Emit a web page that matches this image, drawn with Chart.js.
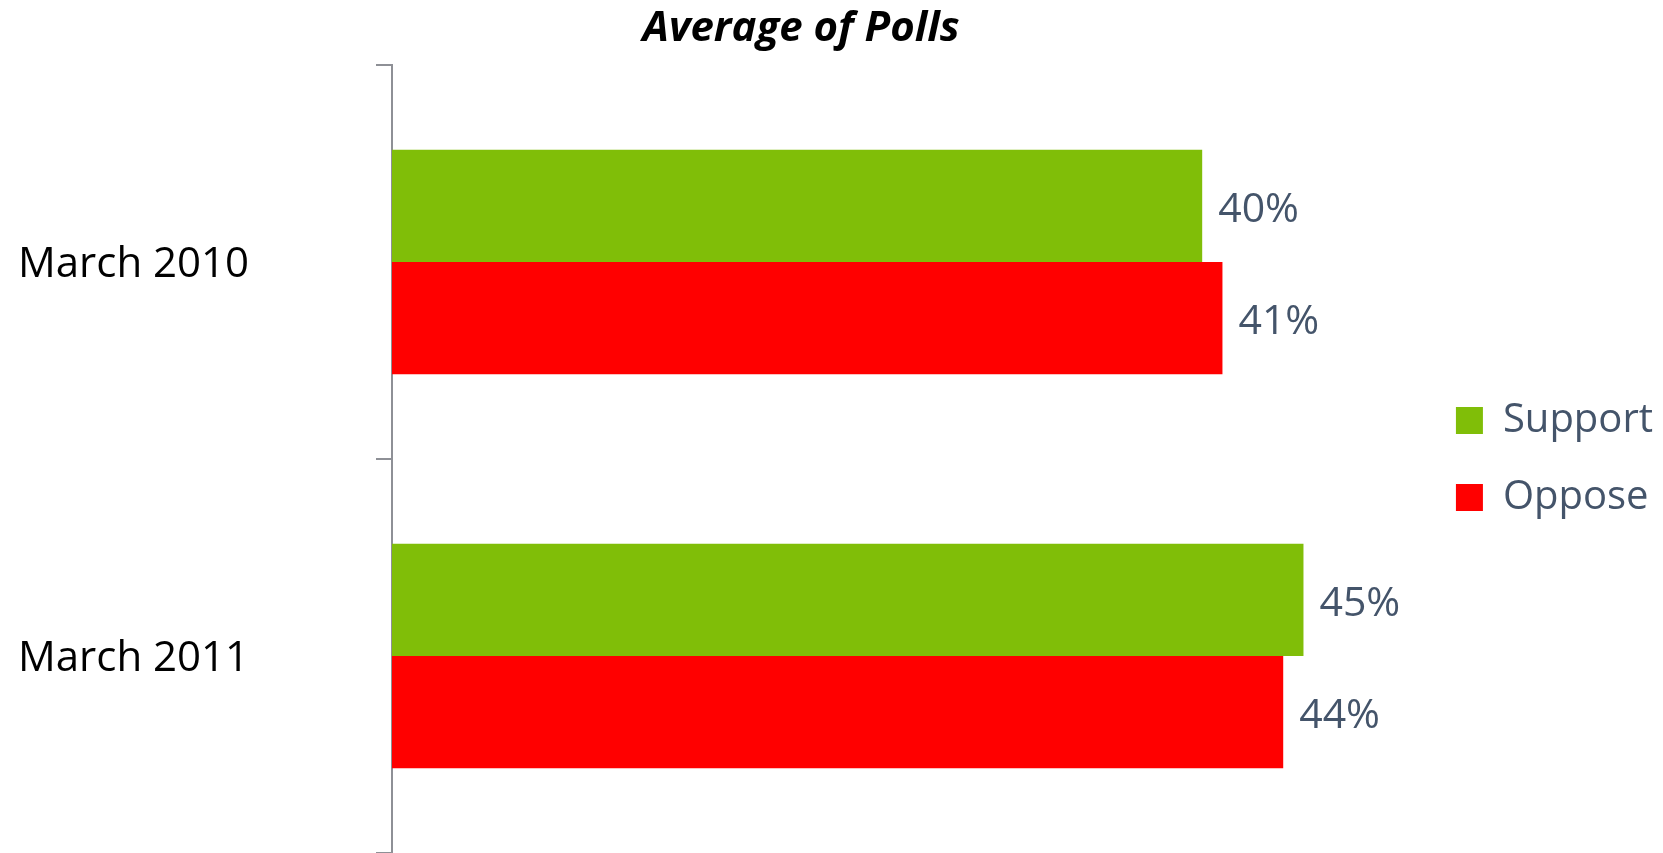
<!DOCTYPE html>
<html>
<head>
<meta charset="utf-8">
<title>Average of Polls</title>
<script src="https://cdn.jsdelivr.net/npm/chart.js@4"></script>
<style>
  html, body { margin: 0; padding: 0; background: #fff; }
  #wrap { width: 1663px; height: 853px; position: relative; }
</style>
</head>
<body>
<div id="wrap"><canvas id="pollsChart"></canvas></div>
<script>
const periods = ['March 2010', 'March 2011'];
const support = [40, 45];
const oppose = [41, 44];
const seriesNames = ['Support', 'Oppose'];

const FONT = "'Open Sans', sans-serif";
const labelGrey = '#44546A';
const axisGrey = '#8E9096';

// value labels to the right of each bar
const barValues = {
  id: 'barValues',
  afterDatasetsDraw(chart) {
    const ctx = chart.ctx;
    ctx.save();
    ctx.font = '41px ' + FONT;
    ctx.fillStyle = labelGrey;
    ctx.textAlign = 'left';
    ctx.textBaseline = 'middle';
    chart.data.datasets.forEach((ds, i) => {
      chart.getDatasetMeta(i).data.forEach((bar, j) => {
        ctx.fillText(ds.data[j] + '%', bar.x + 16, bar.y + 4);
      });
    });
    ctx.restore();
  }
};

// italic heading above the plot
const heading = {
  id: 'heading',
  afterDraw(chart) {
    const ctx = chart.ctx;
    ctx.save();
    ctx.font = 'italic bold 42px ' + FONT;
    ctx.fillStyle = '#000';
    ctx.textAlign = 'center';
    ctx.textBaseline = 'alphabetic';
    ctx.fillText('Average of Polls', chart.width * 0.4817, 41);
    ctx.restore();
  }
};

new Chart(document.getElementById('pollsChart'), {
  type: 'bar',
  data: {
    labels: periods,
    datasets: [
      {
        label: seriesNames[0],
        data: support,
        backgroundColor: '#80BE08',
        borderWidth: 0,
        categoryPercentage: 0.57,
        barPercentage: 1
      },
      {
        label: seriesNames[1],
        data: oppose,
        backgroundColor: '#FF0000',
        borderWidth: 0,
        categoryPercentage: 0.57,
        barPercentage: 1
      }
    ]
  },
  plugins: [barValues, heading],
  options: {
    indexAxis: 'y',
    responsive: true,
    maintainAspectRatio: false,
    animation: false,
    layout: {
      padding: { top: 65, left: 18, right: 0, bottom: 0 }
    },
    plugins: {
      title: { display: false },
      tooltip: { enabled: false },
      legend: {
        position: 'right',
        align: 'center',
        labels: {
          boxWidth: 27,
          boxHeight: 27,
          padding: 37,
          color: labelGrey,
          font: { family: FONT, size: 40 }
        }
      }
    },
    scales: {
      x: {
        display: false,
        min: 0,
        max: 50.7
      },
      y: {
        offset: true,
        afterFit(scale) {
          scale.width = 374;
          // axis runs to the bottom edge, no room kept for label overhang
          scale.paddingTop = 0;
          scale.paddingBottom = 0;
        },
        border: {
          display: true,
          color: axisGrey,
          width: 2
        },
        grid: {
          offset: true,
          drawOnChartArea: false,
          drawTicks: true,
          tickLength: 16,
          color: axisGrey,
          lineWidth: 2
        },
        ticks: {
          crossAlign: 'far',
          labelOffset: 3,
          color: '#000',
          font: { family: FONT, size: 42 }
        }
      }
    }
  }
});
</script>
</body>
</html>
